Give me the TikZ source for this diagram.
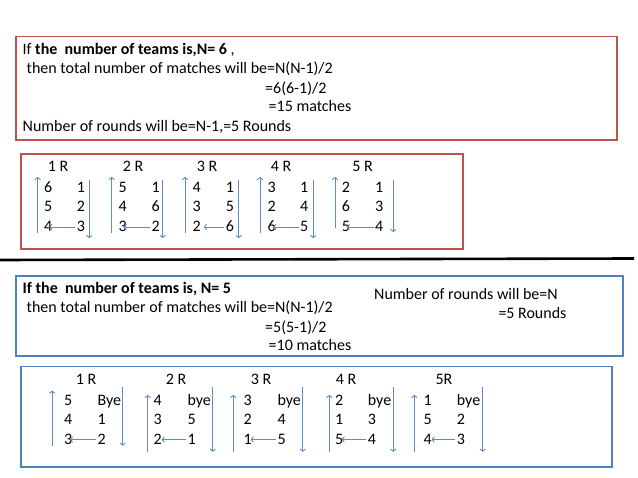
\documentclass[tikz,border=0pt]{standalone}
\usepackage{fontspec}
\setmainfont{Carlito}
\usetikzlibrary{arrows.meta}
\definecolor{boxred}{HTML}{C0504D}
\definecolor{boxblue}{HTML}{4F81BD}
\definecolor{arrblue}{HTML}{5B8CC8}
\begin{document}
\begin{tikzpicture}[x=1pt,y=-1pt,
  txt/.style={anchor=base west,inner sep=0pt,font=\fontsize{16}{19}\selectfont},
  num/.style={anchor=base,inner sep=0pt,font=\fontsize{16}{19}\selectfont},
  arr/.style={draw=arrblue,line width=0.9pt,-{To[length=3pt,width=6pt]}},
  redframe/.style={draw=boxred,line width=1.6pt},
  blueframe/.style={draw=boxblue,line width=1.6pt}]
\useasboundingbox (0,0) rectangle (638,478);
\fill[white] (0,0) rectangle (638,478);

% ---------- frames ----------
\draw[redframe] (15.7,36.7) rectangle (616.7,140);
\draw[redframe] (20.7,154) rectangle (462.7,249);
\draw[blueframe] (15.7,276) rectangle (622.7,356);
\draw[blueframe] (20.7,366.7) rectangle (611.7,467.3);
\coordinate (sepL) at (0,260);
\coordinate (sepR) at (634,258.5);
\draw[line width=2.6pt,black] (sepL) -- (sepR);

% ---------- N = 6 text ----------
\node[txt] (t1) at (22.5,55) {If \textbf{the\ \ number of teams is,N= 6} ,};
\node[txt] (t2) at (26.5,74) {then total number of matches will be=N(N-1)/2};
\node[txt] (t3) at (265,93.5) {=6(6-1)/2};
\node[txt] (t4) at (268.5,112) {=15 matches};
\node[txt] (t5) at (22.5,131.5) {Number of rounds will be=N-1,=5 Rounds};

% ---------- N = 6 rounds ----------
\foreach \i/\h/\hx/\lx/\rx/\ux/\uy/\dx/\dy/\la/\lb/\lc/\ra/\rb/\rc/\hs in {
  1/1 R/58/48.3/81/37.7/233/89.3/238/6/5/4/1/2/3/1,
  2/2 R/133/122.7/155.7/111.7/233/162.7/238/5/4/3/1/6/2/1,
  3/3 R/207/196.7/230/185/233/238.7/238/4/3/2/1/5/6/7.3,
  4/4 R/281/271.7/304.3/260/233/313.3/238/3/2/6/1/4/5/1.6,
  5/5 R/362.7/346/379.3/335/228/393.3/232/2/6/5/1/3/4/0.7}{
  \node[num] (rh\i) at (\hx,171.5) {\h};
  \node[num] (ra\i1) at (\lx,193) {\la};
  \node[num] (ra\i2) at (\lx,212) {\lb};
  \node[num] (ra\i3) at (\lx,232) {\lc};
  \node[num] (rb\i1) at (\rx,193) {\ra};
  \node[num] (rb\i2) at (\rx,212) {\rb};
  \node[num] (rb\i3) at (\rx,232) {\rc};
  \coordinate (ru\i s) at (\ux,\uy);
  \coordinate (ru\i e) at (\ux,177);
  \coordinate (rd\i s) at (\dx,180.5);
  \coordinate (rd\i e) at (\dx,\dy);
  \draw[arr] (ru\i s) -- (ru\i e);
  \draw[arr] (rd\i s) -- (rd\i e);
  \draw[arr] ([xshift=-1.5pt,yshift=5pt]rb\i3.base west) -- ([xshift=\hs pt,yshift=5pt]ra\i3.base);
}

% ---------- N = 5 text ----------
\node[txt] (s1) at (22.5,294) {\textbf{If the\ \ number of teams is, N= 5}};
\node[txt] (s2) at (26.5,313) {then total number of matches will be=N(N-1)/2};
\node[txt] (s3) at (265,332.5) {=5(5-1)/2};
\node[txt] (s4) at (268.5,351) {=10 matches};
\node[txt] (s5) at (374,299.5) {Number of rounds will be=N};
\node[txt] (s6) at (498.3,318.5) {=5 Rounds};

% ---------- N = 5 rounds ----------
\foreach \i/\h/\hx/\lx/\rx/\ux/\uy/\uz/\dx/\dy/\la/\lb/\lc/\ra/\rb/\rc/\hs in {
  1/1 R/86/64/97.3/52.3/445.7/390.7/122.7/445.7/5/4/3/Bye/1/2/6,
  2/2 R/176/153.3/187.3/147.7/451.7/395/212.7/451.7/4/3/2/bye/5/1/8.4,
  3/3 R/261/243.3/277.3/233.3/451.7/395/302.7/451.7/3/2/1/bye/4/5/7.4,
  4/4 R/346/335/367.7/329.3/451.7/395/393.3/451.7/2/1/5/bye/3/4/6.7,
  5/5R/444/423.3/456.7/414.3/451.7/395/482.7/451.7/1/5/4/bye/2/3/8.4}{
  \node[num] (bh\i) at (\hx,384.5) {\h};
  \node[txt] (ba\i1) at (\lx,406) {\la};
  \node[txt] (ba\i2) at (\lx,425) {\lb};
  \node[txt] (ba\i3) at (\lx,444.5) {\lc};
  \node[txt] (bb\i1) at (\rx,406) {\ra};
  \node[txt] (bb\i2) at (\rx,425) {\rb};
  \node[txt] (bb\i3) at (\rx,444.5) {\rc};
  \coordinate (bu\i s) at (\ux,\uy);
  \coordinate (bu\i e) at (\ux,\uz);
  \coordinate (bd\i s) at (\dx,387);
  \coordinate (bd\i e) at (\dx,\dy);
  \draw[arr] (bu\i s) -- (bu\i e);
  \draw[arr] (bd\i s) -- (bd\i e);
  \draw[arr] ([xshift=-1.5pt,yshift=5pt]bb\i3.base west) -- ([xshift=\hs pt,yshift=5pt]ba\i3.base west);
}
\end{tikzpicture}
\end{document}
